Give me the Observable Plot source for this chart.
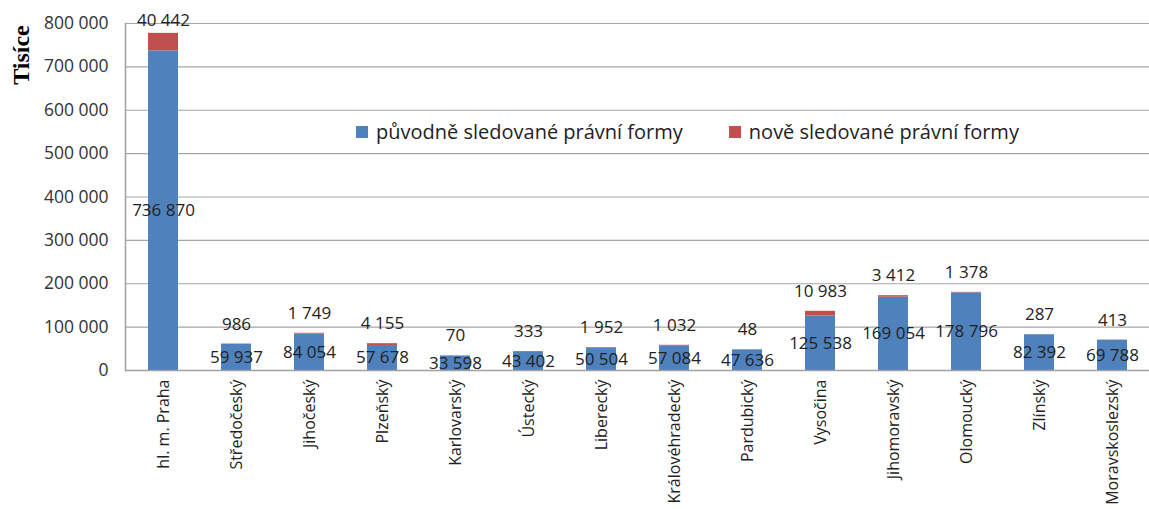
<!DOCTYPE html>
<html><head><meta charset="utf-8">
<script src="https://cdn.jsdelivr.net/npm/d3@7"></script>
<script src="https://cdn.jsdelivr.net/npm/@observablehq/plot@0.6"></script>
<style>
body{margin:0;background:#fff;font-family:"Open Sans",sans-serif;}
#wrap{position:relative;width:1149px;height:509px;overflow:hidden;}
#legend{position:absolute;left:356px;top:118px;font-size:20px;color:#222;display:flex;align-items:center;white-space:nowrap;}
#legend .sw{display:inline-block;width:12px;height:12px;margin-right:8px;}
#legend .item{display:flex;align-items:center;margin-right:46px;}
#ylab{position:absolute;left:21px;top:55px;transform:translate(-50%,-50%) rotate(-90deg);font-family:"Liberation Serif",serif;font-weight:bold;font-size:24px;color:#000;white-space:nowrap;}
</style></head><body>
<div id="wrap"><div id="chart"></div>
<div id="legend"></div>
<div id="ylab">Tisíce</div>
</div>
<script>
const regions = ["hl. m. Praha","Středočeský","Jihočeský","Plzeňský","Karlovarský","Ústecký","Liberecký","Královéhradecký","Pardubický","Vysočina","Jihomoravský","Olomoucký","Zlínský","Moravskoslezský"];
const puvodni = [736870,59937,84054,57678,33598,43402,50504,57084,47636,125538,169054,178796,82392,69788];
const nove = [40442,986,1749,4155,70,333,1952,1032,48,10983,3412,1378,287,413];
const seriesNames = ["původně sledované právní formy","nově sledované právní formy"];
const colors = ["#4F81BD","#C0504D"];
const yTicks = [0,100000,200000,300000,400000,500000,600000,700000,800000];

const fmt = v => d3.format(",")(v).replace(/,/g," ");
const rows = [];
regions.forEach((r,i)=>{
  rows.push({region:r, series:seriesNames[0], value:puvodni[i]});
  rows.push({region:r, series:seriesNames[1], value:nove[i]});
});
const blueLabels = regions.map((r,i)=>({region:r, y:puvodni[i]/2, label:fmt(puvodni[i])}));
// red labels sit above the stack, kept inside the plot frame
const redLabels = regions.map((r,i)=>({region:r, y:Math.min(puvodni[i]+nove[i], 760000), label:fmt(nove[i])}));

const chart = Plot.plot({
  width:1149, height:509,
  marginLeft:125, marginRight:0, marginTop:23, marginBottom:139,
  style:{fontFamily:"Open Sans, sans-serif", color:"#222", background:"#fff"},
  x:{domain:regions, paddingInner:0.59, paddingOuter:0.295, label:null},
  y:{domain:[0,800000], ticks:yTicks, label:null},
  color:{domain:seriesNames, range:colors},
  marks:[
    Plot.gridY(yTicks,{stroke:"#a6a6a6", strokeOpacity:1, strokeWidth:1.2}),
    Plot.barY(rows,{x:"region", y:"value", fill:"series", order:seriesNames}),
    Plot.ruleY([0],{stroke:"#a0a0a0", strokeWidth:1.5}),
    Plot.frame({anchor:"left", stroke:"#a0a0a0", strokeWidth:1.5}),
    Plot.axisY({ticks:yTicks, tickFormat:fmt, tickSize:0, tickPadding:17, fontSize:17.5, fill:"#333"}),
    Plot.axisX({tickSize:0, tickRotate:-90, tickPadding:9, fontSize:16, fill:"#222"}),
    Plot.text(blueLabels,{x:"region", y:"y", text:"label", fontSize:17, fill:"#222"}),
    Plot.text(redLabels,{x:"region", y:"y", text:"label", fontSize:17, fill:"#222", dy:-20})
  ]
});
document.getElementById("chart").appendChild(chart);
const lg = document.getElementById("legend");
seriesNames.forEach((n,i)=>{
  const it=document.createElement("div");it.className="item";
  it.innerHTML=`<span class="sw" style="background:${colors[i]}"></span><span>${n}</span>`;
  lg.appendChild(it);
});
</script>
</body></html>
